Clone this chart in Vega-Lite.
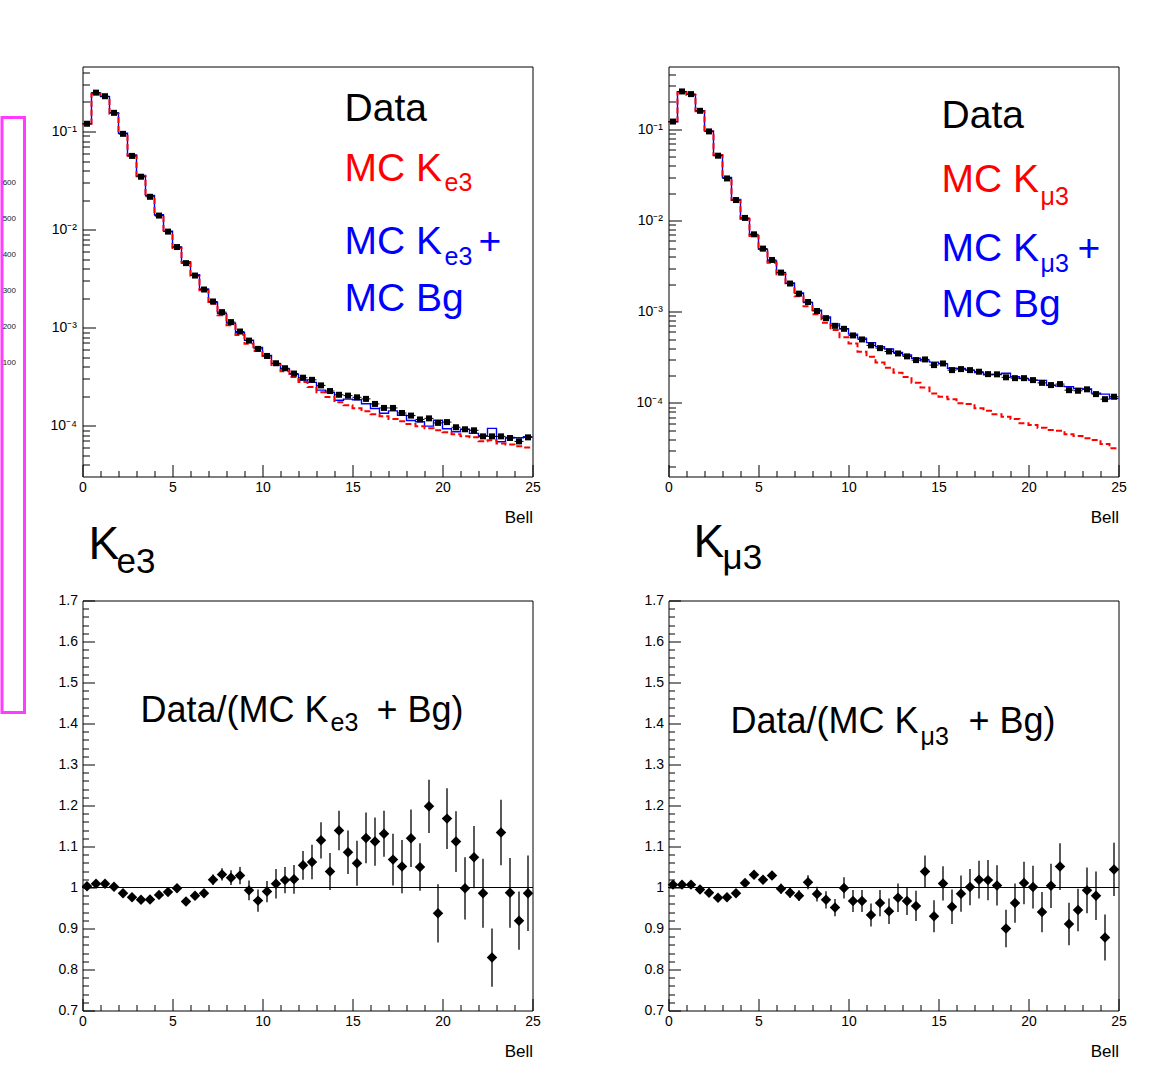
{
"$schema": "https://vega.github.io/schema/vega-lite/v6.json",
"background": "white",
"padding": {"left": 0, "top": 65.5, "right": 0, "bottom": 0},
"config": {
  "font": "Liberation Sans",
  "view": {"stroke": "black", "strokeWidth": 1},
  "axis": {"domain": false, "grid": false, "labelFont": "Liberation Sans", "labelFontSize": 14, "labelColor": "black", "tickColor": "black", "tickWidth": 1, "titleFont": "Liberation Sans", "titleFontWeight": "normal", "titleFontSize": 17, "titleColor": "black", "labelOverlap": false, "labelFlush": false}
},
"datasets": {
"e3": [
{"lo":0,"c":0.25,"hi":0.5,"d":0.120,"mc":0.1196,"sig":0.1172,"r":1.003,"e":0.003},
{"lo":0.5,"c":0.75,"hi":1,"d":0.249,"mc":0.2468,"sig":0.2419,"r":1.009,"e":0.003},
{"lo":1,"c":1.25,"hi":1.5,"d":0.229,"mc":0.2270,"sig":0.2225,"r":1.009,"e":0.003},
{"lo":1.5,"c":1.75,"hi":2,"d":0.155,"mc":0.1547,"sig":0.1516,"r":1.002,"e":0.003},
{"lo":2,"c":2.25,"hi":2.5,"d":0.0947,"mc":0.0960,"sig":0.0941,"r":0.986,"e":0.004},
{"lo":2.5,"c":2.75,"hi":3,"d":0.0564,"mc":0.0578,"sig":0.0566,"r":0.976,"e":0.004},
{"lo":3,"c":3.25,"hi":3.5,"d":0.0346,"mc":0.0357,"sig":0.0350,"r":0.970,"e":0.004},
{"lo":3.5,"c":3.75,"hi":4,"d":0.0216,"mc":0.02224,"sig":0.0218,"r":0.971,"e":0.004},
{"lo":4,"c":4.25,"hi":4.5,"d":0.0139,"mc":0.01415,"sig":0.01387,"r":0.982,"e":0.005},
{"lo":4.5,"c":4.75,"hi":5,"d":0.00954,"mc":0.00965,"sig":0.00946,"r":0.989,"e":0.006},
{"lo":5,"c":5.25,"hi":5.5,"d":0.00664,"mc":0.00665,"sig":0.00650,"r":0.998,"e":0.007},
{"lo":5.5,"c":5.75,"hi":6,"d":0.00455,"mc":0.00471,"sig":0.00460,"r":0.966,"e":0.008},
{"lo":6,"c":6.25,"hi":6.5,"d":0.00340,"mc":0.00347,"sig":0.00338,"r":0.980,"e":0.009},
{"lo":6.5,"c":6.75,"hi":7,"d":0.00245,"mc":0.00248,"sig":0.00241,"r":0.986,"e":0.010},
{"lo":7,"c":7.25,"hi":7.5,"d":0.00185,"mc":0.001815,"sig":0.00175,"r":1.019,"e":0.013},
{"lo":7.5,"c":7.75,"hi":8,"d":0.00144,"mc":0.001395,"sig":0.00134,"r":1.032,"e":0.015},
{"lo":8,"c":8.25,"hi":8.5,"d":0.00114,"mc":0.001113,"sig":0.00106,"r":1.024,"e":0.018},
{"lo":8.5,"c":8.75,"hi":9,"d":0.000914,"mc":0.000888,"sig":0.000840,"r":1.029,"e":0.021},
{"lo":9,"c":9.25,"hi":9.5,"d":0.000739,"mc":0.000744,"sig":0.000684,"r":0.993,"e":0.024},
{"lo":9.5,"c":9.75,"hi":10,"d":0.000608,"mc":0.000628,"sig":0.000580,"r":0.968,"e":0.027},
{"lo":10,"c":10.25,"hi":10.5,"d":0.000515,"mc":0.000520,"sig":0.000492,"r":0.990,"e":0.026},
{"lo":10.5,"c":10.75,"hi":11,"d":0.000434,"mc":0.000430,"sig":0.000417,"r":1.009,"e":0.036},
{"lo":11,"c":11.25,"hi":11.5,"d":0.000386,"mc":0.000379,"sig":0.000360,"r":1.018,"e":0.032},
{"lo":11.5,"c":11.75,"hi":12,"d":0.000341,"mc":0.000334,"sig":0.000314,"r":1.020,"e":0.035},
{"lo":12,"c":12.25,"hi":12.5,"d":0.000309,"mc":0.000293,"sig":0.000279,"r":1.054,"e":0.035},
{"lo":12.5,"c":12.75,"hi":13,"d":0.000294,"mc":0.000277,"sig":0.000248,"r":1.062,"e":0.042},
{"lo":13,"c":13.25,"hi":13.5,"d":0.000258,"mc":0.000231,"sig":0.000220,"r":1.115,"e":0.044},
{"lo":13.5,"c":13.75,"hi":14,"d":0.000226,"mc":0.000218,"sig":0.000196,"r":1.039,"e":0.045},
{"lo":14,"c":14.25,"hi":14.5,"d":0.000207,"mc":0.000182,"sig":0.000174,"r":1.139,"e":0.048},
{"lo":14.5,"c":14.75,"hi":15,"d":0.000203,"mc":0.000187,"sig":0.000162,"r":1.086,"e":0.053},
{"lo":15,"c":15.25,"hi":15.5,"d":0.000195,"mc":0.000184,"sig":0.000151,"r":1.059,"e":0.055},
{"lo":15.5,"c":15.75,"hi":16,"d":0.000188,"mc":0.000168,"sig":0.000141,"r":1.121,"e":0.062},
{"lo":16,"c":16.25,"hi":16.5,"d":0.000167,"mc":0.000150,"sig":0.000131,"r":1.112,"e":0.059},
{"lo":16.5,"c":16.75,"hi":17,"d":0.000152,"mc":0.000134,"sig":0.000125,"r":1.131,"e":0.056},
{"lo":17,"c":17.25,"hi":17.5,"d":0.000152,"mc":0.000142,"sig":0.000117,"r":1.068,"e":0.063},
{"lo":17.5,"c":17.75,"hi":18,"d":0.000135,"mc":0.000128,"sig":0.000111,"r":1.051,"e":0.065},
{"lo":18,"c":18.25,"hi":18.5,"d":0.000127,"mc":0.000113,"sig":0.000104,"r":1.120,"e":0.070},
{"lo":18.5,"c":18.75,"hi":19,"d":0.000116,"mc":0.000110,"sig":0.0000988,"r":1.050,"e":0.058},
{"lo":19,"c":19.25,"hi":19.5,"d":0.000119,"mc":0.0000993,"sig":0.0000943,"r":1.198,"e":0.065},
{"lo":19.5,"c":19.75,"hi":20,"d":0.000107,"mc":0.000114,"sig":0.0000899,"r":0.937,"e":0.071},
{"lo":20,"c":20.25,"hi":20.5,"d":0.000109,"mc":0.0000933,"sig":0.0000858,"r":1.168,"e":0.074},
{"lo":20.5,"c":20.75,"hi":21,"d":0.0000966,"mc":0.0000869,"sig":0.0000818,"r":1.112,"e":0.074},
{"lo":21,"c":21.25,"hi":21.5,"d":0.0000921,"mc":0.0000923,"sig":0.0000780,"r":0.998,"e":0.076},
{"lo":21.5,"c":21.75,"hi":22,"d":0.0000899,"mc":0.0000837,"sig":0.0000762,"r":1.074,"e":0.076},
{"lo":22,"c":22.25,"hi":22.5,"d":0.0000780,"mc":0.0000791,"sig":0.0000694,"r":0.986,"e":0.084},
{"lo":22.5,"c":22.75,"hi":23,"d":0.0000780,"mc":0.0000941,"sig":0.0000710,"r":0.829,"e":0.071},
{"lo":23,"c":23.25,"hi":23.5,"d":0.0000780,"mc":0.0000688,"sig":0.0000660,"r":1.134,"e":0.080},
{"lo":23.5,"c":23.75,"hi":24,"d":0.0000750,"mc":0.0000760,"sig":0.0000646,"r":0.987,"e":0.085},
{"lo":24,"c":24.25,"hi":24.5,"d":0.0000693,"mc":0.0000754,"sig":0.0000617,"r":0.919,"e":0.071},
{"lo":24.5,"c":24.75,"hi":25,"d":0.0000762,"mc":0.0000773,"sig":0.0000602,"r":0.986,"e":0.092},
{"lo":25,"mc":0.0000773,"sig":0.0000602}
],
"m3": [
{"lo":0,"c":0.25,"hi":0.5,"d":0.122,"mc":0.1212,"sig":0.1194,"r":1.007,"e":0.003},
{"lo":0.5,"c":0.75,"hi":1,"d":0.261,"mc":0.2592,"sig":0.2553,"r":1.007,"e":0.003},
{"lo":1,"c":1.25,"hi":1.5,"d":0.244,"mc":0.2423,"sig":0.2387,"r":1.007,"e":0.003},
{"lo":1.5,"c":1.75,"hi":2,"d":0.160,"mc":0.1608,"sig":0.1584,"r":0.995,"e":0.004},
{"lo":2,"c":2.25,"hi":2.5,"d":0.0951,"mc":0.0964,"sig":0.0950,"r":0.987,"e":0.004},
{"lo":2.5,"c":2.75,"hi":3,"d":0.0515,"mc":0.0528,"sig":0.0520,"r":0.975,"e":0.004},
{"lo":3,"c":3.25,"hi":3.5,"d":0.0290,"mc":0.0297,"sig":0.0293,"r":0.976,"e":0.004},
{"lo":3.5,"c":3.75,"hi":4,"d":0.0168,"mc":0.01704,"sig":0.01678,"r":0.986,"e":0.005},
{"lo":4,"c":4.25,"hi":4.5,"d":0.0107,"mc":0.01058,"sig":0.01042,"r":1.011,"e":0.006},
{"lo":4.5,"c":4.75,"hi":5,"d":0.00707,"mc":0.00686,"sig":0.00676,"r":1.031,"e":0.007},
{"lo":5,"c":5.25,"hi":5.5,"d":0.00493,"mc":0.00484,"sig":0.00472,"r":1.019,"e":0.007},
{"lo":5.5,"c":5.75,"hi":6,"d":0.00370,"mc":0.00360,"sig":0.00344,"r":1.029,"e":0.008},
{"lo":6,"c":6.25,"hi":6.5,"d":0.00269,"mc":0.00270,"sig":0.00258,"r":0.997,"e":0.012},
{"lo":6.5,"c":6.75,"hi":7,"d":0.00204,"mc":0.00207,"sig":0.00196,"r":0.987,"e":0.012},
{"lo":7,"c":7.25,"hi":7.5,"d":0.00158,"mc":0.00161,"sig":0.00148,"r":0.980,"e":0.013},
{"lo":7.5,"c":7.75,"hi":8,"d":0.00128,"mc":0.00126,"sig":0.00115,"r":1.013,"e":0.017},
{"lo":8,"c":8.25,"hi":8.5,"d":0.00102,"mc":0.00104,"sig":0.000941,"r":0.984,"e":0.018},
{"lo":8.5,"c":8.75,"hi":9,"d":0.000851,"mc":0.000877,"sig":0.000757,"r":0.970,"e":0.021},
{"lo":9,"c":9.25,"hi":9.5,"d":0.000701,"mc":0.000737,"sig":0.000630,"r":0.951,"e":0.021},
{"lo":9.5,"c":9.75,"hi":10,"d":0.000650,"mc":0.000651,"sig":0.000524,"r":0.999,"e":0.026},
{"lo":10,"c":10.25,"hi":10.5,"d":0.000550,"mc":0.000569,"sig":0.000448,"r":0.967,"e":0.027},
{"lo":10.5,"c":10.75,"hi":11,"d":0.000497,"mc":0.000514,"sig":0.000364,"r":0.967,"e":0.027},
{"lo":11,"c":11.25,"hi":11.5,"d":0.000428,"mc":0.000459,"sig":0.000321,"r":0.933,"e":0.028},
{"lo":11.5,"c":11.75,"hi":12,"d":0.000399,"mc":0.000415,"sig":0.000277,"r":0.962,"e":0.032},
{"lo":12,"c":12.25,"hi":12.5,"d":0.000367,"mc":0.000390,"sig":0.000243,"r":0.942,"e":0.031},
{"lo":12.5,"c":12.75,"hi":13,"d":0.000349,"mc":0.000358,"sig":0.000215,"r":0.975,"e":0.035},
{"lo":13,"c":13.25,"hi":13.5,"d":0.000324,"mc":0.000335,"sig":0.000192,"r":0.967,"e":0.034},
{"lo":13.5,"c":13.75,"hi":14,"d":0.000295,"mc":0.000309,"sig":0.000166,"r":0.955,"e":0.037},
{"lo":14,"c":14.25,"hi":14.5,"d":0.000300,"mc":0.000289,"sig":0.000148,"r":1.039,"e":0.039},
{"lo":14.5,"c":14.75,"hi":15,"d":0.000260,"mc":0.000280,"sig":0.000127,"r":0.930,"e":0.039},
{"lo":15,"c":15.25,"hi":15.5,"d":0.000271,"mc":0.000268,"sig":0.000117,"r":1.010,"e":0.042},
{"lo":15.5,"c":15.75,"hi":16,"d":0.000229,"mc":0.000240,"sig":0.000110,"r":0.953,"e":0.042},
{"lo":16,"c":16.25,"hi":16.5,"d":0.000235,"mc":0.000239,"sig":0.0000991,"r":0.985,"e":0.044},
{"lo":16.5,"c":16.75,"hi":17,"d":0.000229,"mc":0.000229,"sig":0.0000973,"r":1.001,"e":0.044},
{"lo":17,"c":17.25,"hi":17.5,"d":0.000220,"mc":0.000216,"sig":0.0000873,"r":1.019,"e":0.046},
{"lo":17.5,"c":17.75,"hi":18,"d":0.000207,"mc":0.000203,"sig":0.0000822,"r":1.018,"e":0.049},
{"lo":18,"c":18.25,"hi":18.5,"d":0.000206,"mc":0.000205,"sig":0.0000750,"r":1.005,"e":0.049},
{"lo":18.5,"c":18.75,"hi":19,"d":0.000191,"mc":0.000212,"sig":0.0000706,"r":0.900,"e":0.046},
{"lo":19,"c":19.25,"hi":19.5,"d":0.000187,"mc":0.000194,"sig":0.0000667,"r":0.962,"e":0.048},
{"lo":19.5,"c":19.75,"hi":20,"d":0.000187,"mc":0.000185,"sig":0.0000598,"r":1.011,"e":0.052},
{"lo":20,"c":20.25,"hi":20.5,"d":0.000178,"mc":0.000178,"sig":0.0000573,"r":1.001,"e":0.052},
{"lo":20.5,"c":20.75,"hi":21,"d":0.000166,"mc":0.000177,"sig":0.0000535,"r":0.940,"e":0.049},
{"lo":21,"c":21.25,"hi":21.5,"d":0.000157,"mc":0.000156,"sig":0.0000505,"r":1.004,"e":0.054},
{"lo":21.5,"c":21.75,"hi":22,"d":0.000161,"mc":0.000153,"sig":0.0000496,"r":1.051,"e":0.057},
{"lo":22,"c":22.25,"hi":22.5,"d":0.000138,"mc":0.000151,"sig":0.0000453,"r":0.911,"e":0.052},
{"lo":22.5,"c":22.75,"hi":23,"d":0.000136,"mc":0.000144,"sig":0.0000434,"r":0.945,"e":0.052},
{"lo":23,"c":23.25,"hi":23.5,"d":0.000141,"mc":0.000142,"sig":0.0000410,"r":0.993,"e":0.056},
{"lo":23.5,"c":23.75,"hi":24,"d":0.000125,"mc":0.000128,"sig":0.0000392,"r":0.980,"e":0.059},
{"lo":24,"c":24.25,"hi":24.5,"d":0.000110,"mc":0.000125,"sig":0.0000355,"r":0.878,"e":0.056},
{"lo":24.5,"c":24.75,"hi":25,"d":0.000117,"mc":0.000112,"sig":0.0000318,"r":1.044,"e":0.065},
{"lo":25,"mc":0.000112,"sig":0.0000318}
]
},
"hconcat": [
{
  "vconcat": [
    {"width": 22.5, "height": 1, "view": {"stroke": null}, "data": {"values": [{"v": 0}]}, "mark": {"type": "point", "opacity": 0, "size": 0}, "encoding": {}},
    {"width": 22.5, "height": 595, "view": {"stroke": "#ff3cff", "strokeWidth": 3},
     "data": {"values": [{"v": 100}, {"v": 200}, {"v": 300}, {"v": 400}, {"v": 500}, {"v": 600}]},
     "mark": {"type": "point", "opacity": 0, "size": 0},
     "encoding": {"y": {"field": "v", "type": "quantitative", "scale": {"domain": [-872, 780.6], "nice": false, "zero": false},
       "axis": {"orient": "right", "values": [100, 200, 300, 400, 500, 600], "ticks": false, "domain": false, "labelAlign": "right", "labelPadding": -9, "labelFontSize": 8, "labelColor": "#222222", "title": null}}}}
  ],
  "spacing": 50, "bounds": "flush"
},
{
  "concat": [
    {
      "width": 450, "height": 410,
      "data": {"name": "e3"},
      "layer": [
        {"mark": {"type": "line", "interpolate": "step-after", "color": "#0000ff", "strokeWidth": 1.4},
         "encoding": {
           "x": {"field": "lo", "type": "quantitative", "scale": {"domain": [0, 25], "nice": false},
                 "axis": {"orient": "bottom", "values": [0, 5, 10, 15, 20, 25], "tickSize": -12, "labelPadding": 16, "format": "d", "title": "Bell", "titleAnchor": "end", "titleAlign": "right", "titlePadding": 15}},
           "y": {"field": "mc", "type": "quantitative", "scale": {"type": "log", "domain": [0.0000304, 0.46], "nice": false},
                 "axis": {"orient": "left", "values": [0.0001, 0.001, 0.01, 0.1], "tickSize": -13, "labelPadding": 19, "labelExpr": "['10⁻⁴','10⁻³','10⁻²','10⁻¹'][round(log(datum.value)/LN10)+4]", "title": null}}}},
        {"mark": {"type": "line", "interpolate": "step-after", "color": "#ff0000", "strokeWidth": 2, "strokeDash": [6, 3]},
         "encoding": {
           "x": {"field": "lo", "type": "quantitative", "scale": {"domain": [0, 25], "nice": false},
                 "axis": {"orient": "bottom", "values": [1,2,3,4,6,7,8,9,11,12,13,14,16,17,18,19,21,22,23,24], "tickSize": -6, "labels": false, "title": null}},
           "y": {"field": "sig", "type": "quantitative",
                 "axis": {"orient": "left", "values": [0.00004,0.00005,0.00006,0.00007,0.00008,0.00009,0.0002,0.0003,0.0004,0.0005,0.0006,0.0007,0.0008,0.0009,0.002,0.003,0.004,0.005,0.006,0.007,0.008,0.009,0.02,0.03,0.04,0.05,0.06,0.07,0.08,0.09,0.2,0.3,0.4], "tickSize": -7, "labels": false, "title": null}}}},
        {"transform": [{"filter": "isValid(datum.d)"}],
         "mark": {"type": "rule", "color": "black", "strokeWidth": 1},
         "encoding": {"x": {"field": "lo", "type": "quantitative", "axis": null}, "x2": {"field": "hi"}, "y": {"field": "d", "type": "quantitative", "axis": null}}},
        {"transform": [{"filter": "isValid(datum.d)"}],
         "mark": {"type": "square", "filled": true, "color": "black", "size": 36, "opacity": 1},
         "encoding": {"x": {"field": "c", "type": "quantitative", "axis": null}, "y": {"field": "d", "type": "quantitative", "axis": null}}},
        {"data": {"values": [
           {"x": 14.56, "y": 0.1288, "t": "Data", "k": "data"},
           {"x": 14.56, "y": 0.03126, "t": "MC K", "k": "sig"},
           {"x": 14.56, "y": 0.005583, "t": "MC K", "k": "mc"},
           {"x": 22.0, "y": 0.00558, "t": "+", "k": "mc"},
           {"x": 14.56, "y": 0.00149, "t": "MC Bg", "k": "mc"}]},
         "mark": {"type": "text", "align": "left", "baseline": "alphabetic", "fontSize": 39, "font": "Liberation Sans"},
         "encoding": {"x": {"field": "x", "type": "quantitative", "axis": null}, "y": {"field": "y", "type": "quantitative", "axis": null}, "text": {"field": "t"},
                      "color": {"field": "k", "type": "nominal", "scale": {"domain": ["data", "sig", "mc"], "range": ["#000000", "#ff0000", "#0000ff"]}, "legend": null}}},
        {"data": {"values": [
           {"x": 20.11, "y": 0.02469, "t": "e3", "k": "sig"},
           {"x": 20.11, "y": 0.004307, "t": "e3", "k": "mc"}]},
         "mark": {"type": "text", "align": "left", "baseline": "alphabetic", "fontSize": 25, "font": "Liberation Sans"},
         "encoding": {"x": {"field": "x", "type": "quantitative", "axis": null}, "y": {"field": "y", "type": "quantitative", "axis": null}, "text": {"field": "t"},
                      "color": {"field": "k", "type": "nominal", "scale": {"domain": ["data", "sig", "mc"], "range": ["#000000", "#ff0000", "#0000ff"]}, "legend": null}}}
      ],
      "resolve": {"axis": {"x": "independent", "y": "independent"}}
    },
    {
      "width": 450, "height": 410,
      "data": {"name": "m3"},
      "layer": [
        {"mark": {"type": "line", "interpolate": "step-after", "color": "#0000ff", "strokeWidth": 1.4},
         "encoding": {
           "x": {"field": "lo", "type": "quantitative", "scale": {"domain": [0, 25], "nice": false},
                 "axis": {"orient": "bottom", "values": [0, 5, 10, 15, 20, 25], "tickSize": -12, "labelPadding": 16, "format": "d", "title": "Bell", "titleAnchor": "end", "titleAlign": "right", "titlePadding": 15}},
           "y": {"field": "mc", "type": "quantitative", "scale": {"type": "log", "domain": [0.0000156, 0.49], "nice": false},
                 "axis": {"orient": "left", "values": [0.0001, 0.001, 0.01, 0.1], "tickSize": -13, "labelPadding": 19, "labelExpr": "['10⁻⁴','10⁻³','10⁻²','10⁻¹'][round(log(datum.value)/LN10)+4]", "title": null}}}},
        {"mark": {"type": "line", "interpolate": "step-after", "color": "#ff0000", "strokeWidth": 2, "strokeDash": [6, 3]},
         "encoding": {
           "x": {"field": "lo", "type": "quantitative", "scale": {"domain": [0, 25], "nice": false},
                 "axis": {"orient": "bottom", "values": [1,2,3,4,6,7,8,9,11,12,13,14,16,17,18,19,21,22,23,24], "tickSize": -6, "labels": false, "title": null}},
           "y": {"field": "sig", "type": "quantitative",
                 "axis": {"orient": "left", "values": [0.00002,0.00003,0.00004,0.00005,0.00006,0.00007,0.00008,0.00009,0.0002,0.0003,0.0004,0.0005,0.0006,0.0007,0.0008,0.0009,0.002,0.003,0.004,0.005,0.006,0.007,0.008,0.009,0.02,0.03,0.04,0.05,0.06,0.07,0.08,0.09,0.2,0.3,0.4], "tickSize": -7, "labels": false, "title": null}}}},
        {"transform": [{"filter": "isValid(datum.d)"}],
         "mark": {"type": "rule", "color": "black", "strokeWidth": 1},
         "encoding": {"x": {"field": "lo", "type": "quantitative", "axis": null}, "x2": {"field": "hi"}, "y": {"field": "d", "type": "quantitative", "axis": null}}},
        {"transform": [{"filter": "isValid(datum.d)"}],
         "mark": {"type": "square", "filled": true, "color": "black", "size": 36, "opacity": 1},
         "encoding": {"x": {"field": "c", "type": "quantitative", "axis": null}, "y": {"field": "d", "type": "quantitative", "axis": null}}},
        {"data": {"values": [
           {"x": 15.17, "y": 0.1025, "t": "Data", "k": "data"},
           {"x": 15.17, "y": 0.02042, "t": "MC K", "k": "sig"},
           {"x": 15.17, "y": 0.003582, "t": "MC K", "k": "mc"},
           {"x": 22.72, "y": 0.00358, "t": "+", "k": "mc"},
           {"x": 15.17, "y": 0.000873, "t": "MC Bg", "k": "mc"}]},
         "mark": {"type": "text", "align": "left", "baseline": "alphabetic", "fontSize": 39, "font": "Liberation Sans"},
         "encoding": {"x": {"field": "x", "type": "quantitative", "axis": null}, "y": {"field": "y", "type": "quantitative", "axis": null}, "text": {"field": "t"},
                      "color": {"field": "k", "type": "nominal", "scale": {"domain": ["data", "sig", "mc"], "range": ["#000000", "#ff0000", "#0000ff"]}, "legend": null}}},
        {"data": {"values": [
           {"x": 20.67, "y": 0.01471, "t": "μ3", "k": "sig"},
           {"x": 20.67, "y": 0.002715, "t": "μ3", "k": "mc"}]},
         "mark": {"type": "text", "align": "left", "baseline": "alphabetic", "fontSize": 25, "font": "Liberation Sans"},
         "encoding": {"x": {"field": "x", "type": "quantitative", "axis": null}, "y": {"field": "y", "type": "quantitative", "axis": null}, "text": {"field": "t"},
                      "color": {"field": "k", "type": "nominal", "scale": {"domain": ["data", "sig", "mc"], "range": ["#000000", "#ff0000", "#0000ff"]}, "legend": null}}}
      ],
      "resolve": {"axis": {"x": "independent", "y": "independent"}}
    },
    {
      "width": 450, "height": 410,
      "data": {"name": "e3"},
      "transform": [{"filter": "isValid(datum.r)"}],
      "layer": [
        {"mark": {"type": "rule", "color": "black", "strokeWidth": 1},
         "encoding": {
           "x": {"datum": 0, "type": "quantitative", "scale": {"domain": [0, 25], "nice": false},
                 "axis": {"orient": "bottom", "values": [1,2,3,4,6,7,8,9,11,12,13,14,16,17,18,19,21,22,23,24], "tickSize": -6, "labels": false, "title": null}},
           "x2": {"datum": 25},
           "y": {"datum": 1, "type": "quantitative", "scale": {"domain": [0.7, 1.7], "nice": false, "zero": false},
                 "axis": {"orient": "left", "values": [0.72,0.74,0.76,0.78,0.82,0.84,0.86,0.88,0.92,0.94,0.96,0.98,1.02,1.04,1.06,1.08,1.12,1.14,1.16,1.18,1.22,1.24,1.26,1.28,1.32,1.34,1.36,1.38,1.42,1.44,1.46,1.48,1.52,1.54,1.56,1.58,1.62,1.64,1.66,1.68], "tickSize": -6, "labels": false, "title": null}}}},
        {"mark": {"type": "errorbar", "color": "black", "thickness": 1.3},
         "encoding": {"x": {"field": "c", "type": "quantitative", "axis": null}, "y": {"field": "r", "type": "quantitative", "axis": null}, "yError": {"field": "e"}}},
        {"mark": {"type": "point", "shape": "diamond", "filled": true, "color": "black", "size": 110, "opacity": 1},
         "encoding": {
           "x": {"field": "c", "type": "quantitative", "scale": {"domain": [0, 25], "nice": false},
                 "axis": {"orient": "bottom", "values": [0, 5, 10, 15, 20, 25], "tickSize": -12, "labelPadding": 16, "format": "d", "title": "Bell", "titleAnchor": "end", "titleAlign": "right", "titlePadding": 15}},
           "y": {"field": "r", "type": "quantitative", "scale": {"domain": [0.7, 1.7], "nice": false, "zero": false},
                 "axis": {"orient": "left", "values": [0.7,0.8,0.9,1,1.1,1.2,1.3,1.4,1.5,1.6,1.7], "tickSize": -12, "labelPadding": 17, "format": "~g", "title": null}}}},
        {"data": {"values": [{"x": 3.22, "y": 1.403, "t": "Data/(MC K"}]},
         "mark": {"type": "text", "align": "left", "baseline": "alphabetic", "fontSize": 36, "font": "Liberation Sans", "color": "black"},
         "encoding": {"x": {"field": "x", "type": "quantitative", "axis": null}, "y": {"field": "y", "type": "quantitative", "axis": null}, "text": {"field": "t"}}},
        {"data": {"values": [{"x": 21.17, "y": 1.403, "t": "+ Bg)"}]},
         "mark": {"type": "text", "align": "right", "baseline": "alphabetic", "fontSize": 36, "font": "Liberation Sans", "color": "black"},
         "encoding": {"x": {"field": "x", "type": "quantitative", "axis": null}, "y": {"field": "y", "type": "quantitative", "axis": null}, "text": {"field": "t"}}},
        {"data": {"values": [{"x": 13.78, "y": 1.381, "t": "e3"}]},
         "mark": {"type": "text", "align": "left", "baseline": "alphabetic", "fontSize": 25, "font": "Liberation Sans", "color": "black"},
         "encoding": {"x": {"field": "x", "type": "quantitative", "axis": null}, "y": {"field": "y", "type": "quantitative", "axis": null}, "text": {"field": "t"}}},
        {"data": {"values": [{"x": 0.333, "y": 1.802, "t": "K"}]},
         "mark": {"type": "text", "align": "left", "baseline": "alphabetic", "fontSize": 46, "font": "Liberation Sans", "color": "black"},
         "encoding": {"x": {"field": "x", "type": "quantitative", "axis": null}, "y": {"field": "y", "type": "quantitative", "axis": null}, "text": {"field": "t"}}},
        {"data": {"values": [{"x": 1.89, "y": 1.766, "t": "e3"}]},
         "mark": {"type": "text", "align": "left", "baseline": "alphabetic", "fontSize": 35, "font": "Liberation Sans", "color": "black"},
         "encoding": {"x": {"field": "x", "type": "quantitative", "axis": null}, "y": {"field": "y", "type": "quantitative", "axis": null}, "text": {"field": "t"}}}
      ],
      "resolve": {"axis": {"x": "independent", "y": "independent"}}
    },
    {
      "width": 450, "height": 410,
      "data": {"name": "m3"},
      "transform": [{"filter": "isValid(datum.r)"}],
      "layer": [
        {"mark": {"type": "rule", "color": "black", "strokeWidth": 1},
         "encoding": {
           "x": {"datum": 0, "type": "quantitative", "scale": {"domain": [0, 25], "nice": false},
                 "axis": {"orient": "bottom", "values": [1,2,3,4,6,7,8,9,11,12,13,14,16,17,18,19,21,22,23,24], "tickSize": -6, "labels": false, "title": null}},
           "x2": {"datum": 25},
           "y": {"datum": 1, "type": "quantitative", "scale": {"domain": [0.7, 1.7], "nice": false, "zero": false},
                 "axis": {"orient": "left", "values": [0.72,0.74,0.76,0.78,0.82,0.84,0.86,0.88,0.92,0.94,0.96,0.98,1.02,1.04,1.06,1.08,1.12,1.14,1.16,1.18,1.22,1.24,1.26,1.28,1.32,1.34,1.36,1.38,1.42,1.44,1.46,1.48,1.52,1.54,1.56,1.58,1.62,1.64,1.66,1.68], "tickSize": -6, "labels": false, "title": null}}}},
        {"mark": {"type": "errorbar", "color": "black", "thickness": 1.3},
         "encoding": {"x": {"field": "c", "type": "quantitative", "axis": null}, "y": {"field": "r", "type": "quantitative", "axis": null}, "yError": {"field": "e"}}},
        {"mark": {"type": "point", "shape": "diamond", "filled": true, "color": "black", "size": 110, "opacity": 1},
         "encoding": {
           "x": {"field": "c", "type": "quantitative", "scale": {"domain": [0, 25], "nice": false},
                 "axis": {"orient": "bottom", "values": [0, 5, 10, 15, 20, 25], "tickSize": -12, "labelPadding": 16, "format": "d", "title": "Bell", "titleAnchor": "end", "titleAlign": "right", "titlePadding": 15}},
           "y": {"field": "r", "type": "quantitative", "scale": {"domain": [0.7, 1.7], "nice": false, "zero": false},
                 "axis": {"orient": "left", "values": [0.7,0.8,0.9,1,1.1,1.2,1.3,1.4,1.5,1.6,1.7], "tickSize": -12, "labelPadding": 17, "format": "~g", "title": null}}}},
        {"data": {"values": [{"x": 3.44, "y": 1.376, "t": "Data/(MC K"}]},
         "mark": {"type": "text", "align": "left", "baseline": "alphabetic", "fontSize": 36, "font": "Liberation Sans", "color": "black"},
         "encoding": {"x": {"field": "x", "type": "quantitative", "axis": null}, "y": {"field": "y", "type": "quantitative", "axis": null}, "text": {"field": "t"}}},
        {"data": {"values": [{"x": 21.5, "y": 1.376, "t": "+ Bg)"}]},
         "mark": {"type": "text", "align": "right", "baseline": "alphabetic", "fontSize": 36, "font": "Liberation Sans", "color": "black"},
         "encoding": {"x": {"field": "x", "type": "quantitative", "axis": null}, "y": {"field": "y", "type": "quantitative", "axis": null}, "text": {"field": "t"}}},
        {"data": {"values": [{"x": 14.0, "y": 1.347, "t": "μ3"}]},
         "mark": {"type": "text", "align": "left", "baseline": "alphabetic", "fontSize": 25, "font": "Liberation Sans", "color": "black"},
         "encoding": {"x": {"field": "x", "type": "quantitative", "axis": null}, "y": {"field": "y", "type": "quantitative", "axis": null}, "text": {"field": "t"}}},
        {"data": {"values": [{"x": 1.39, "y": 1.807, "t": "K"}]},
         "mark": {"type": "text", "align": "left", "baseline": "alphabetic", "fontSize": 46, "font": "Liberation Sans", "color": "black"},
         "encoding": {"x": {"field": "x", "type": "quantitative", "axis": null}, "y": {"field": "y", "type": "quantitative", "axis": null}, "text": {"field": "t"}}},
        {"data": {"values": [{"x": 3.0, "y": 1.778, "t": "μ3"}]},
         "mark": {"type": "text", "align": "left", "baseline": "alphabetic", "fontSize": 35, "font": "Liberation Sans", "color": "black"},
         "encoding": {"x": {"field": "x", "type": "quantitative", "axis": null}, "y": {"field": "y", "type": "quantitative", "axis": null}, "text": {"field": "t"}}}
      ],
      "resolve": {"axis": {"x": "independent", "y": "independent"}}
    }
  ],
  "columns": 2,
  "spacing": {"row": 124, "column": 136},
  "bounds": "flush"
}
],
"spacing": 80.5,
"bounds": "flush"
}
